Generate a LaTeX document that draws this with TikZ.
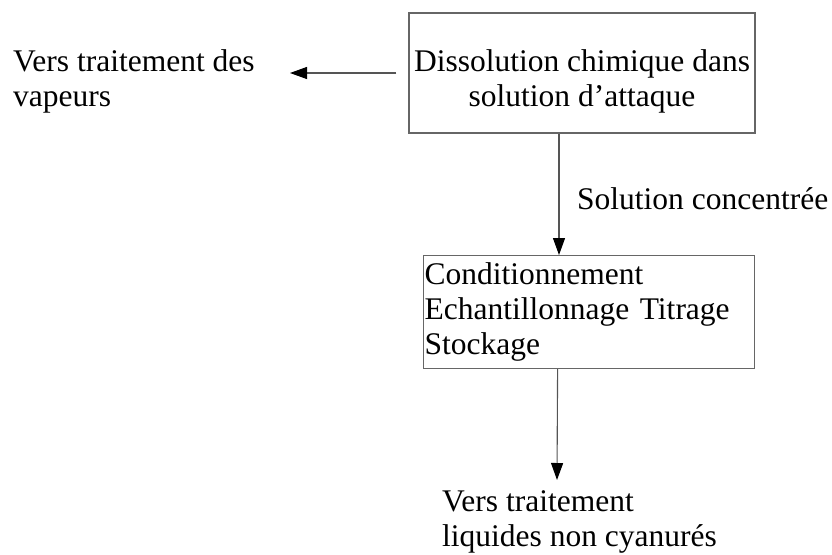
\documentclass[tikz,border=0pt]{standalone}
\usepackage{fontspec}
\setmainfont{Liberation Serif}
\usepackage{tikz}
\usetikzlibrary{arrows.meta,positioning}
\definecolor{FlowLine}{HTML}{555555}
\definecolor{FlowFrame}{HTML}{666666}
\tikzset{
  stage/.style={draw=FlowFrame, line width=1.2pt, inner sep=1pt},
  plain/.style={inner sep=0pt, align=left},
  wire/.style={-{Triangle[length=17pt,width=12pt,black]}, draw=FlowLine, line width=1.1pt}
}

\begin{document}
\begin{tikzpicture}[x=1pt, y=-1pt, font=\fontsize{31.5}{35}\selectfont]
  \useasboundingbox (0,0) rectangle (832,554);
  % the strut pushes the two lines a little below the middle
  \node[stage, align=center, minimum width=346pt, minimum height=120pt] (diss) at (582,73)
    {\rule{0pt}{38pt}Dissolution chimique dans\\solution d’attaque};
  \node[stage, align=left, anchor=north west, text width=329pt, minimum height=113pt] (cond) at (423,255)
    {Conditionnement\\Echantillonnage Titrage\\Stockage};
  \node[plain, anchor=west] (vap) at (13,81) {Vers traitement des\\vapeurs};
  \node[plain, anchor=west] (liq) at (442,522) {Vers traitement\\liquides non cyanurés};
  \node[plain, anchor=base west] (conc) at (577,209) {Solution concentrée};
  \coordinate (vaptip) at (290,73);
  \coordinate (liqtip) at (557,480);
  \draw[wire, shorten <=12pt] (diss.west) -- (vaptip);
  \draw[wire] ([xshift=-23pt]diss.south) -- ([xshift=-23pt]diss.south |- cond.north);
  \draw[wire] ([xshift=-31.5pt]cond.south) -- (liqtip);
\end{tikzpicture}
\end{document}
